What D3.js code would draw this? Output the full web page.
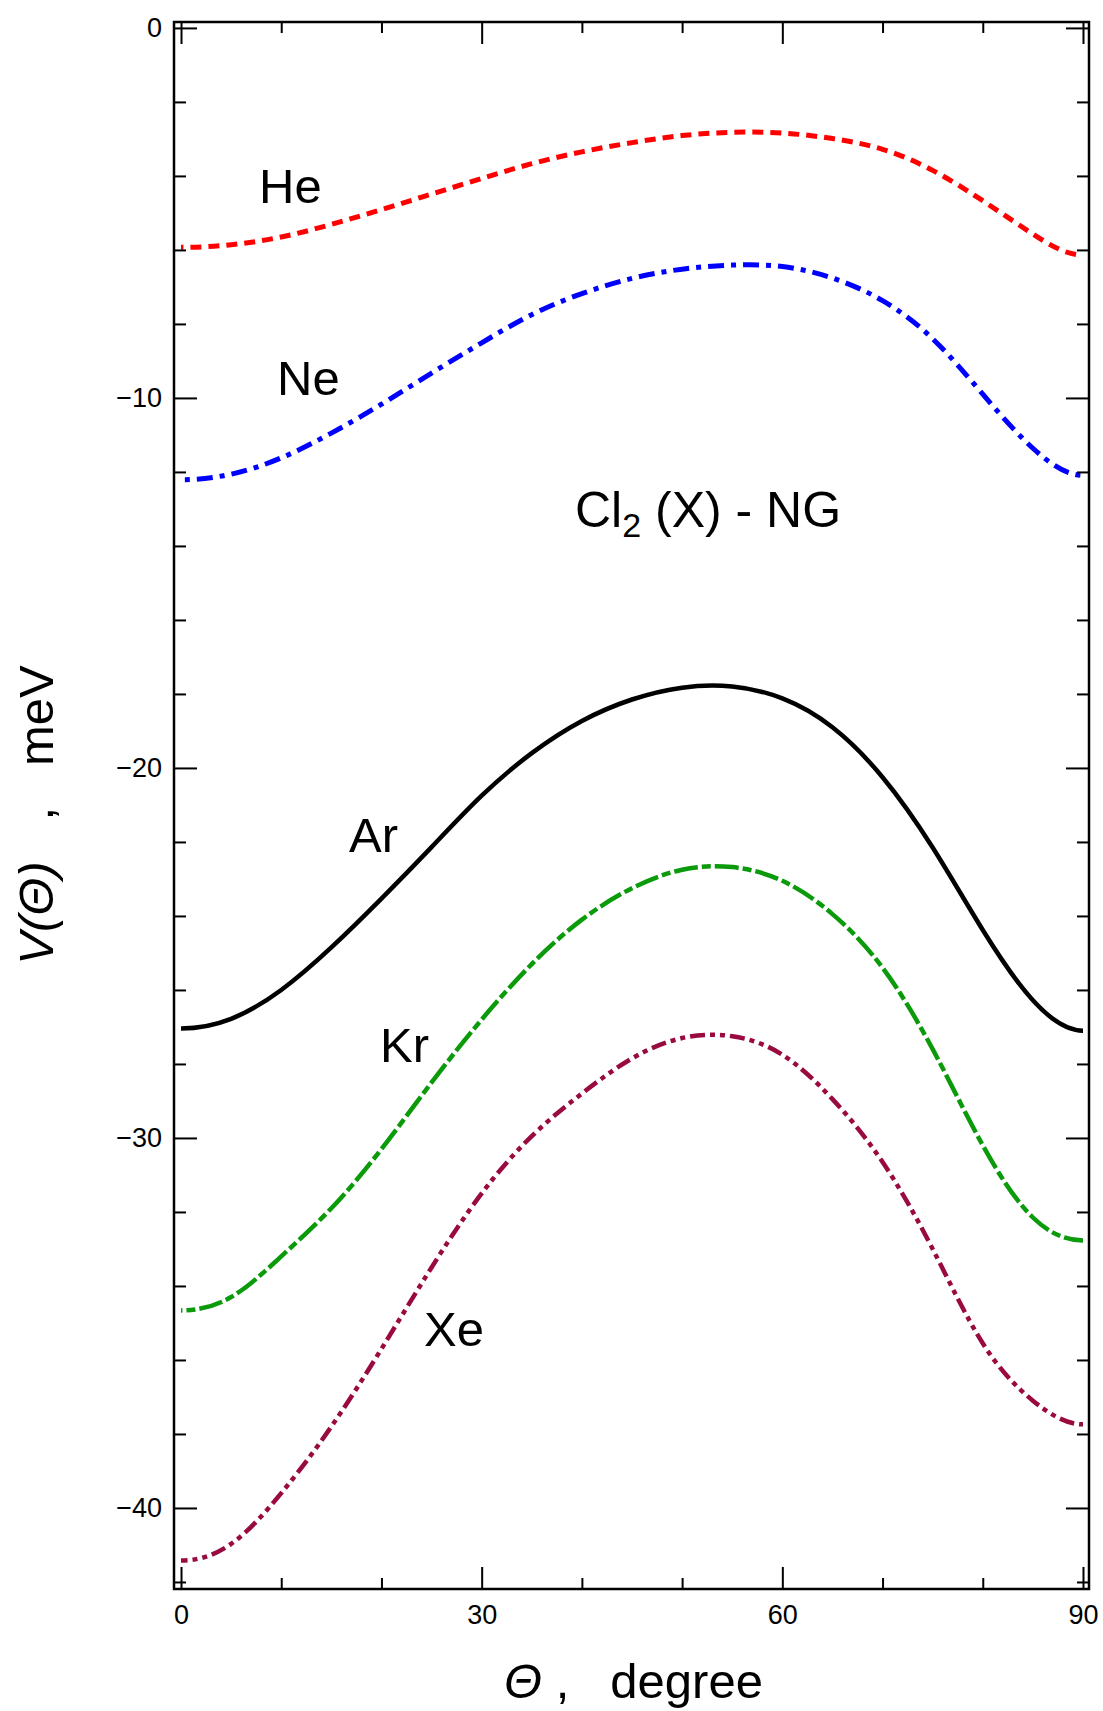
<!DOCTYPE html>
<html>
<head>
<meta charset="utf-8">
<script src="https://cdn.jsdelivr.net/npm/d3@7"></script>
<style>
  body { margin: 0; background: #fff; }
  svg { font-family: "Liberation Sans", Arial, Helvetica, sans-serif; }
</style>
</head>
<body>
<script>
// angle grid (degrees) and potential curves V(theta) in meV
var theta = [0, 5, 10, 15, 20, 25, 30, 35, 40, 45, 50, 55, 60, 65, 70, 75, 80, 85, 90];
var vHe = [-5.93, -5.86, -5.65, -5.31, -4.91, -4.49, -4.07, -3.67, -3.35, -3.10, -2.91, -2.82, -2.84, -2.99, -3.28, -3.85, -4.67, -5.57, -6.14];
var vNe = [-12.21, -12.06, -11.62, -10.95, -10.17, -9.33, -8.51, -7.75, -7.18, -6.77, -6.52, -6.41, -6.45, -6.76, -7.37, -8.40, -9.90, -11.36, -12.09];
var vAr = [-27.04, -26.78, -26.0, -24.85, -23.53, -22.14, -20.75, -19.60, -18.73, -18.15, -17.83, -17.80, -18.12, -18.90, -20.25, -22.15, -24.38, -26.28, -27.1];
var vKr = [-34.66, -34.3, -33.2, -31.9, -30.3, -28.5, -26.8, -25.3, -24.1, -23.25, -22.75, -22.68, -23.05, -23.95, -25.4, -27.6, -30.2, -32.15, -32.77];
var vXe = [-41.42, -40.97, -39.6, -37.8, -35.7, -33.5, -31.5, -29.95, -28.8, -27.85, -27.3, -27.25, -27.75, -28.95, -30.65, -33.0, -35.55, -37.1, -37.74];

var seriesNames = ["He", "Ne", "Ar", "Kr", "Xe"];
var seriesValues = [vHe, vNe, vAr, vKr, vXe];

var xMajor = [0, 30, 60, 90];
var xMinor = [10, 20, 40, 50, 70, 80];
var yMajor = [0, -10, -20, -30, -40];
var yMinor = d3.range(-42, 1, 2).filter(function(d) { return d % 10 !== 0; });

var width = 1103, height = 1711;
var plotL = 174, plotR = 1089, plotT = 22, plotB = 1589;

var svg = d3.select("body").append("svg")
    .attr("width", width)
    .attr("height", height);

var x = d3.scaleLinear().domain([-0.7, 90.6]).range([plotL, plotR]);
var y = d3.scaleLinear().domain([-42.19, 0.16]).range([plotB, plotT]);

// line styles per gas
var styles = [
  {color: "#ff0000", dash: "11,7", w: 5},
  {color: "#0000ff", dash: "16,7,5,7", w: 5},
  {color: "#000000", dash: null, w: 4.5},
  {color: "#0a9a0a", dash: "24,4,9,4", w: 4.5},
  {color: "#990a40", dash: "15,5,5,5,5,5", w: 4.5}
];

// V is even about 0 and 90 deg, so reflect a few points past each end
// to get flat tangents there; the overhang is clipped away
function withMirror(vals) {
  var pts = theta.map(function(t, i) { return [t, vals[i]]; });
  var leftPts = pts.filter(function(p) { return p[0] > 0 && p[0] <= 15; })
      .map(function(p) { return [-p[0], p[1]]; }).reverse();
  var rightPts = pts.filter(function(p) { return p[0] >= 75 && p[0] < 90; })
      .map(function(p) { return [180 - p[0], p[1]]; }).reverse();
  return leftPts.concat(pts, rightPts);
}

svg.append("clipPath").attr("id", "clip")
  .append("rect")
    .attr("x", x(0)).attr("y", 0)
    .attr("width", x(90) - x(0)).attr("height", height);

var line = d3.line()
    .x(function(d) { return x(d[0]); })
    .y(function(d) { return y(d[1]); })
    .curve(d3.curveNatural);

svg.append("g").attr("clip-path", "url(#clip)")
  .selectAll("path.curve")
    .data(seriesValues.map(withMirror))
    .enter().append("path")
    .attr("class", "curve")
    .attr("d", line)
    .attr("fill", "none")
    .attr("stroke", function(d, i) { return styles[i].color; })
    .attr("stroke-width", function(d, i) { return styles[i].w; })
    .attr("stroke-dasharray", function(d, i) { return styles[i].dash; });

// axes, ticks pointing inward on all four sides
function drawAxis(axis, tx, ty) {
  var g = svg.append("g")
      .attr("transform", "translate(" + tx + "," + ty + ")")
      .call(axis);
  g.select(".domain").remove();
  g.selectAll("line").attr("stroke", "#000").attr("stroke-width", 2);
  g.selectAll("text").attr("font-size", 27).attr("fill", "#000")
      .attr("font-family", "Liberation Sans, Arial, sans-serif");
  return g;
}

drawAxis(d3.axisBottom(x).tickValues(xMajor).tickSize(-22).tickPadding(16).tickFormat(d3.format("d")), 0, plotB);
drawAxis(d3.axisBottom(x).tickValues(xMinor).tickSize(-11).tickFormat(""), 0, plotB);
drawAxis(d3.axisTop(x).tickValues(xMajor).tickSize(-22).tickFormat(""), 0, plotT);
drawAxis(d3.axisTop(x).tickValues(xMinor).tickSize(-11).tickFormat(""), 0, plotT);
drawAxis(d3.axisLeft(y).tickValues(yMajor).tickSize(-23).tickPadding(12).tickFormat(d3.format("d")), plotL, 0);
drawAxis(d3.axisLeft(y).tickValues(yMinor).tickSize(-12).tickFormat(""), plotL, 0);
drawAxis(d3.axisRight(y).tickValues(yMajor).tickSize(-23).tickFormat(""), plotR, 0);
drawAxis(d3.axisRight(y).tickValues(yMinor).tickSize(-12).tickFormat(""), plotR, 0);

// frame
svg.append("rect")
    .attr("x", plotL).attr("y", plotT)
    .attr("width", plotR - plotL).attr("height", plotB - plotT)
    .attr("fill", "none").attr("stroke", "#000").attr("stroke-width", 2.5);

// curve labels
var labelPos = [[259, 203], [277, 395], [349, 852], [380, 1062], [424, 1346]];
svg.selectAll("text.lab")
    .data(seriesNames)
    .enter().append("text")
    .attr("class", "lab")
    .attr("x", function(d, i) { return labelPos[i][0]; })
    .attr("y", function(d, i) { return labelPos[i][1]; })
    .attr("font-size", 49)
    .text(function(d) { return d; });

// system title
var title = svg.append("text").attr("x", 575).attr("y", 527).attr("font-size", 50)
    .style("white-space", "pre");
title.append("tspan").text("Cl");
title.append("tspan").attr("font-size", 34).attr("dy", 10).text("2");
title.append("tspan").attr("dy", -10).text(" (X) - NG");

// axis titles
var xt = svg.append("text").attr("x", (plotL + plotR) / 2 + 2).attr("y", 1698)
    .attr("text-anchor", "middle").attr("font-size", 49).style("white-space", "pre");
xt.append("tspan").attr("font-style", "italic").text("\u0398");
xt.append("tspan").text(" ,   degree");

var yt = svg.append("text")
    .attr("transform", "translate(53,815) rotate(-90)")
    .attr("text-anchor", "middle").attr("font-size", 49).style("white-space", "pre");
yt.append("tspan").attr("font-style", "italic").text("V(\u0398)");
yt.append("tspan").text("   ,   meV");
</script>
</body>
</html>
